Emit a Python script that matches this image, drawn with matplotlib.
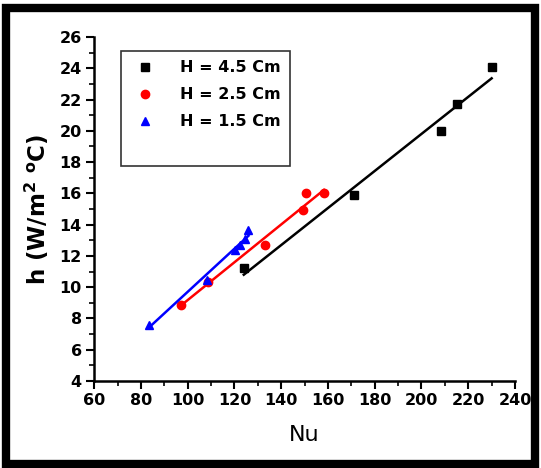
import numpy as np
import matplotlib
matplotlib.use("Agg")
import matplotlib.pyplot as plt
from matplotlib.patches import Rectangle
from matplotlib.ticker import MultipleLocator

# Datos
nu_45 = [124.0, 171.0, 208.5, 215.0, 230.0]
h_45 = [11.2, 15.9, 20.0, 21.7, 24.1]

nu_25 = [97.0, 108.5, 133.0, 149.5, 150.6, 158.3]
h_25 = [8.86, 10.3, 12.7, 14.94, 16.0, 16.04]

nu_15 = [83.5, 108.2, 120.3, 122.4, 124.6, 126.0]
h_15 = [7.6, 10.46, 12.4, 12.7, 13.1, 13.66]

labels = ['H = 4.5 Cm', 'H = 2.5 Cm', 'H = 1.5 Cm']

fig = plt.figure(figsize=(5.41, 4.68), dpi=100)
ax = fig.add_axes([0.174, 0.186, 0.778, 0.735])

series = [(nu_45, h_45, 'black', 's'), (nu_25, h_25, 'red', 'o'), (nu_15, h_15, 'blue', '^')]
for (x, y, c, m), lab in zip(series, labels):
    x = np.array(x)
    y = np.array(y)
    ax.plot(x, y, ls='none', marker=m, color=c, ms=6, label=lab)
    p = np.polyfit(x, y, 1)
    xf = np.array([x.min(), x.max()])
    ax.plot(xf, np.polyval(p, xf), color=c, lw=1.8)

# entrada vacia para dejar el hueco bajo la leyenda
ax.plot([], [], ls='none', label=' ')

ax.set_xlim(60, 240)
ax.set_ylim(4, 26)
ax.xaxis.set_major_locator(MultipleLocator(20))
ax.xaxis.set_minor_locator(MultipleLocator(10))
ax.yaxis.set_major_locator(MultipleLocator(2))
ax.yaxis.set_minor_locator(MultipleLocator(1))
ax.tick_params(which='major', direction='out', length=6, width=1.5, labelsize=11.5, pad=3)
ax.tick_params(which='minor', direction='out', length=3.5, width=1.2)
for t in ax.get_xticklabels() + ax.get_yticklabels():
    t.set_fontweight('bold')

ax.spines['top'].set_visible(False)
ax.spines['right'].set_visible(False)
ax.spines['left'].set_linewidth(1.8)
ax.spines['bottom'].set_linewidth(1.8)

ax.set_xlabel('Nu', fontsize=16, labelpad=12)
ax.set_ylabel(r'h (W/m$^\mathbf{2}$ $^\mathbf{o}$C)', fontsize=16.5, fontweight='bold', labelpad=6)

leg = ax.legend(loc='upper left', bbox_to_anchor=(0.063, 0.96), frameon=True, fancybox=False,
                edgecolor='black', handletextpad=1.3, borderpad=0.6, labelspacing=0.75,
                prop={'weight': 'bold', 'size': 11.5}, handlelength=1.8, borderaxespad=0)
leg.get_frame().set_linewidth(1.2)

# marco negro alrededor de la figura
fig.patches.append(Rectangle((0.012, 0.008), 0.976, 0.975, transform=fig.transFigure,
                             fill=False, edgecolor='black', lw=6))

fig.savefig('out.png', dpi=100)
